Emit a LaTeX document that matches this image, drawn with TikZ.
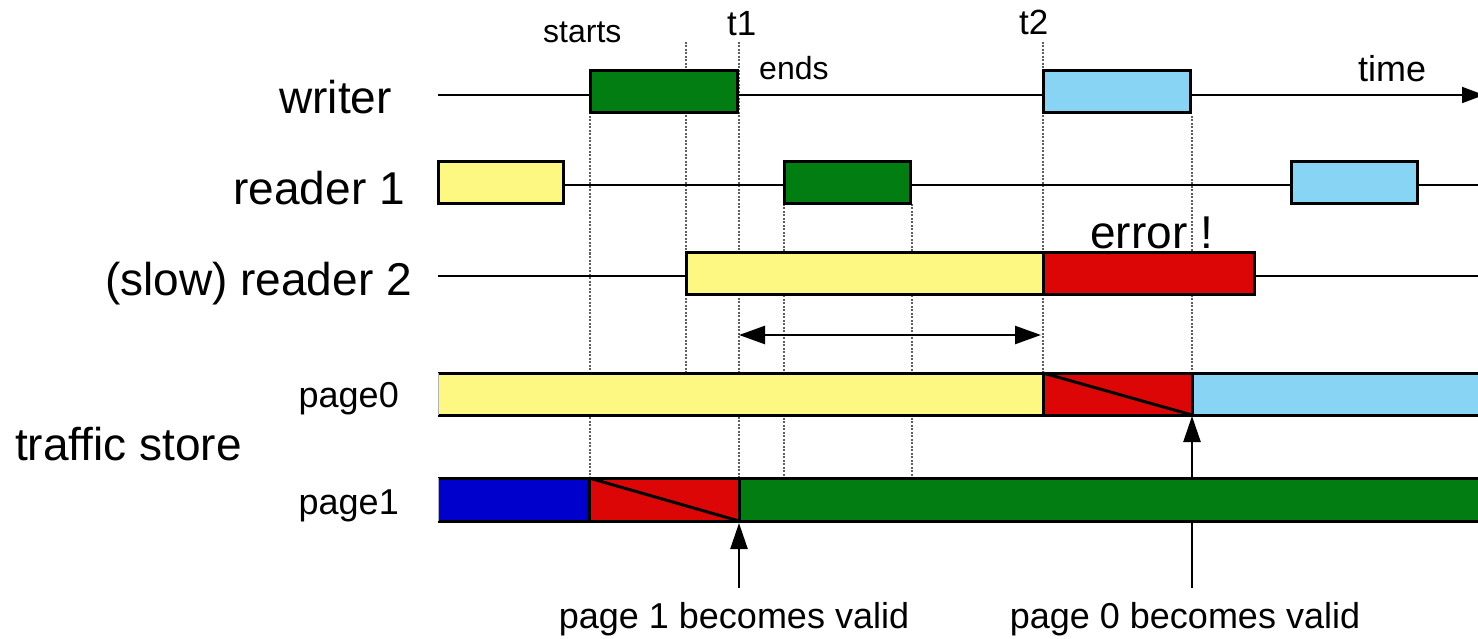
\documentclass[tikz,border=0pt]{standalone}
\usepackage{fontspec}
\setmainfont{Liberation Sans}
\usetikzlibrary{arrows.meta}
\definecolor{bargreen}{RGB}{2,125,18}
\definecolor{barred}{RGB}{220,6,6}
\definecolor{barblue}{RGB}{0,0,205}
\definecolor{baryellow}{RGB}{252,248,130}
\definecolor{barcyan}{RGB}{135,212,245}
\definecolor{guidegray}{RGB}{95,95,95}
\tikzset{
  box/.style={draw=black, line width=3pt},
  tline/.style={draw=black, line width=2pt},
  guide/.style={draw=guidegray, line width=1.8pt, dash pattern=on 2pt off 1.5pt},
  big/.style={font=\fontsize{46}{50}\selectfont, inner sep=0pt},
  mid/.style={font=\fontsize{36}{40}\selectfont, inner sep=0pt},
  small/.style={font=\fontsize{32}{36}\selectfont, inner sep=0pt},
  tick/.style={font=\fontsize{35}{38}\selectfont, inner sep=0pt},
  arr/.style={-{Triangle[length=26pt,width=17pt]}, line width=2.5pt},
  dblarr/.style={{Triangle[length=26pt,width=18pt]}-{Triangle[length=26pt,width=18pt]}, line width=2.5pt},
}
\begin{document}
\begin{tikzpicture}[x=1pt,y=-1pt]
\clip (0,0) rectangle (1478,639);
\fill[white] (0,0) rectangle (1478,639);

% dotted guide lines
\draw[guide] (590,116) -- (590,478);
\draw[guide] (686,42) -- (686,372);
\draw[guide] (739,42) -- (739,478);
\draw[guide] (784,204) -- (784,478);
\draw[guide] (912,204) -- (912,478);
\draw[guide] (1043,42) -- (1043,372);
\draw[guide] (1192,116) -- (1192,372);

% timelines
\coordinate (wstart) at (438,95);
\coordinate (wend) at (1484,95);
\draw[tline, -{Triangle[length=22pt,width=16pt]}] (wstart) -- (wend);
\coordinate (r1start) at (438,185);
\coordinate (r1end) at (1480,185);
\draw[tline] (r1start) -- (r1end);
\coordinate (r2start) at (438,276);
\coordinate (r2end) at (1480,276);
\draw[tline] (r2start) -- (r2end);

% writer boxes
\filldraw[box, fill=bargreen] (590,71) rectangle (737,113);
\filldraw[box, fill=barcyan] (1043,71) rectangle (1190,113);
% reader 1 boxes
\filldraw[box, fill=baryellow] (438,162) rectangle (563,204);
\filldraw[box, fill=bargreen] (784,162) rectangle (910,204);
\filldraw[box, fill=barcyan] (1291,162) rectangle (1417,204);
% reader 2 boxes
\filldraw[box, fill=baryellow] (686,253) rectangle (1043,294);
\filldraw[box, fill=barred] (1043,253) rectangle (1254,294);

% double arrow
\coordinate (dl) at (739,335);
\coordinate (dr) at (1041,335);
\draw[dblarr] (dl) -- (dr);

% arrow to page0 (behind page1)
\coordinate (v0bot) at (1192,588);
\coordinate (v0top) at (1192,416);
\draw[arr] (v0bot) -- (v0top);

% page0
\fill[baryellow] (438,373) rectangle (1043,415);
\fill[barred] (1043,373) rectangle (1192,415);
\fill[barcyan] (1192,373) rectangle (1490,415);
\draw[box] (1043,373) -- (1043,415);
\draw[box] (1192,373) -- (1192,415);
\draw[box] (1043,373) -- (1192,415);
\draw[box] (438,373) -- (1490,373);
\draw[box] (438,415) -- (1490,415);
\draw[draw=gray!60, line width=1pt] (438.5,373) -- (438.5,415);

% page1
\fill[barblue] (438,478) rectangle (588,521);
\fill[barred] (588,478) rectangle (739,521);
\fill[bargreen] (739,478) rectangle (1490,521);
\draw[box] (589,478) -- (589,521);
\draw[box] (739,478) -- (739,521);
\draw[box] (589,478) -- (739,521);
\draw[box] (438,478) -- (1490,478);
\draw[box] (438,521) -- (1490,521);
\draw[draw=gray!60, line width=1pt] (438.5,478) -- (438.5,521);

% arrow to page1
\coordinate (v1bot) at (739,588);
\coordinate (v1top) at (739,523);
\draw[arr] (v1bot) -- (v1top);

% left labels
\node[big, anchor=base east] (lwriter) at (392,114) {writer};
\node[big, anchor=base east] (lreader1) at (405,205) {reader 1};
\node[big, anchor=base east] (lreader2) at (412,295) {(slow) reader 2};
\node[mid, anchor=base east] (lpage0) at (399,407) {page0};
\node[big, anchor=base west] (lstore) at (15,460) {traffic store};
\node[mid, anchor=base east] (lpage1) at (399,514) {page1};

% top labels
\node[small, anchor=base west] (lstarts) at (543,43) {starts};
\node[tick, anchor=base west] (lt1) at (727,36) {t1};
\node[small, anchor=base west] (lends) at (759,80) {ends};
\node[tick, anchor=base west] (lt2) at (1019,35) {t2};
\node[mid, anchor=base west] (ltime) at (1358,82) {time};
\node[big, anchor=base west] (lerror) at (1090,248) {error !};

% bottom labels
\node[mid, anchor=base] (lv1) at (734,628) {page 1 becomes valid};
\node[mid, anchor=base] (lv0) at (1185,628) {page 0 becomes valid};
\end{tikzpicture}
\end{document}
